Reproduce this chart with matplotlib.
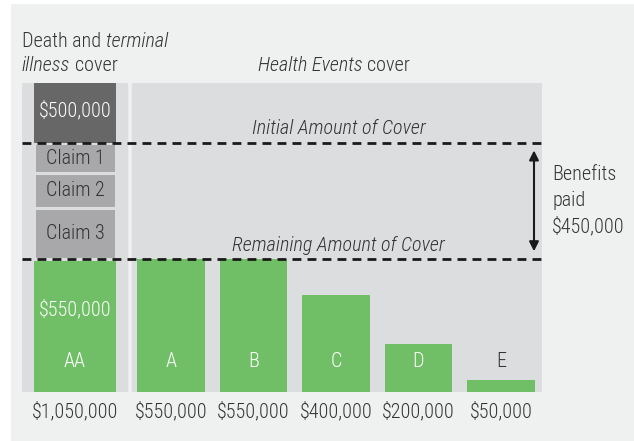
import matplotlib
matplotlib.use("Agg")
import matplotlib.pyplot as plt
from matplotlib.patches import Rectangle

plt.rcParams['font.family'] = ['Roboto Condensed', 'DejaVu Sans']
plt.rcParams['font.weight'] = 'light'
plt.rcParams['font.size'] = 14.5

# values in $ thousands
categories = ['AA', 'A', 'B', 'C', 'D', 'E']
remaining = [550, 550, 550, 400, 200, 50]
bottom_labels = ['$1,050,000', '$550,000', '$550,000', '$400,000', '$200,000', '$50,000']
claim_names = ['Claim 3', 'Claim 2', 'Claim 1']
claims = [209, 145, 126]
death_top = 248
remaining_cover = 550
initial_cover = 1030

GREEN = '#70bf67'
DARK = '#676767'
CLAIM = '#a8a8aa'
PANEL = '#dcdddf'
OUTER = '#eff0f0'
TXT = '#333333'

fig = plt.figure(figsize=(6.34, 4.41), dpi=100)
fig.patch.set_facecolor('white')
fig.patches.append(Rectangle((11 / 634, 0), 1, 1 - 4 / 441, transform=fig.transFigure,
                             facecolor=OUTER, edgecolor='none', zorder=-10))

ax = fig.add_axes([22 / 634, 49 / 441, 520 / 634, 309 / 441])
ax.set_xlim(-0.806, 5.497)
ax.set_ylim(0, 1277)
ax.axis('off')

# panel backgrounds
ax.axvspan(-0.806, 0.467, color=PANEL, zorder=0)
ax.axvspan(0.527, 5.497, color=PANEL, zorder=0)

xpos = [-0.164, 1, 2, 3, 4, 5]
widths = [0.99, 0.82, 0.82, 0.82, 0.82, 0.82]
ax.bar(xpos, remaining, width=widths, color=GREEN, zorder=2)

# claims stacked on AA
base = remaining[0]
for name, c in zip(claim_names, claims):
    ax.bar(xpos[0], c, bottom=base, width=widths[0], color=CLAIM,
           edgecolor=PANEL, linewidth=2.2, zorder=2)
    ax.text(xpos[0], base + c / 2, name, ha='center', va='center', color=TXT, zorder=3)
    base += c
ax.bar(xpos[0], death_top, bottom=initial_cover, width=widths[0], color=DARK, zorder=2)
ax.text(xpos[0], initial_cover + death_top / 2 + 10, '$500,000', ha='center', va='center',
        color='white', zorder=3)
ax.text(xpos[0], 340, '$550,000', ha='center', va='center', color='white', zorder=3)

# dashed lines
for yv in [initial_cover, remaining_cover]:
    ax.plot([-0.806, 5.497], [yv, yv], color='#1a1a1a', lw=2.0, dashes=(3.2, 2.2), zorder=4,
            dash_capstyle='butt')
ax.text(3.03, initial_cover + 18, 'Initial Amount of Cover', style='italic', ha='center',
        va='bottom', color=TXT)
ax.text(3.03, remaining_cover + 18, 'Remaining Amount of Cover', style='italic', ha='center',
        va='bottom', color=TXT)

# bar letters
for x, cat in zip(xpos, categories):
    col = TXT if cat == 'E' else 'white'
    ax.text(x, 125, cat, ha='center', va='center', color=col, zorder=3)

# bottom values
for x, lab in zip(xpos, bottom_labels):
    ax.text(x, -80, lab, ha='center', va='center', color=TXT, clip_on=False)

# benefits arrow
ax.annotate('', xy=(5.40, initial_cover - 20), xytext=(5.40, remaining_cover + 20),
            arrowprops=dict(arrowstyle='<|-|>', color='#1a1a1a', lw=1.5, mutation_scale=14),
            zorder=5)
ax.text(5.62, 790, 'Benefits\npaid\n$450,000', ha='left', va='center',
        color=TXT, linespacing=1.45, clip_on=False)

# headings with mixed italic
t1 = fig.text(22 / 634, 1 - 47 / 441, 'Death and', ha='left', va='baseline', color=TXT)
ax.annotate('terminal', xy=(1, 0), xycoords=t1, xytext=(3.5, 0), textcoords='offset points',
            ha='left', va='bottom', style='italic', color=TXT, annotation_clip=False)
t2 = fig.text(22 / 634, 1 - 71 / 441, 'illness', ha='left', va='baseline', style='italic', color=TXT)
ax.annotate('cover', xy=(1, 0), xycoords=t2, xytext=(3.5, 0), textcoords='offset points',
            ha='left', va='bottom', color=TXT, annotation_clip=False)
t3 = fig.text(258 / 634, 1 - 71 / 441, 'Health Events', ha='left', va='baseline', style='italic', color=TXT)
ax.annotate('cover', xy=(1, 0), xycoords=t3, xytext=(3.5, 0), textcoords='offset points',
            ha='left', va='bottom', color=TXT, annotation_clip=False)

fig.savefig('out.png', dpi=100, facecolor=fig.get_facecolor())
